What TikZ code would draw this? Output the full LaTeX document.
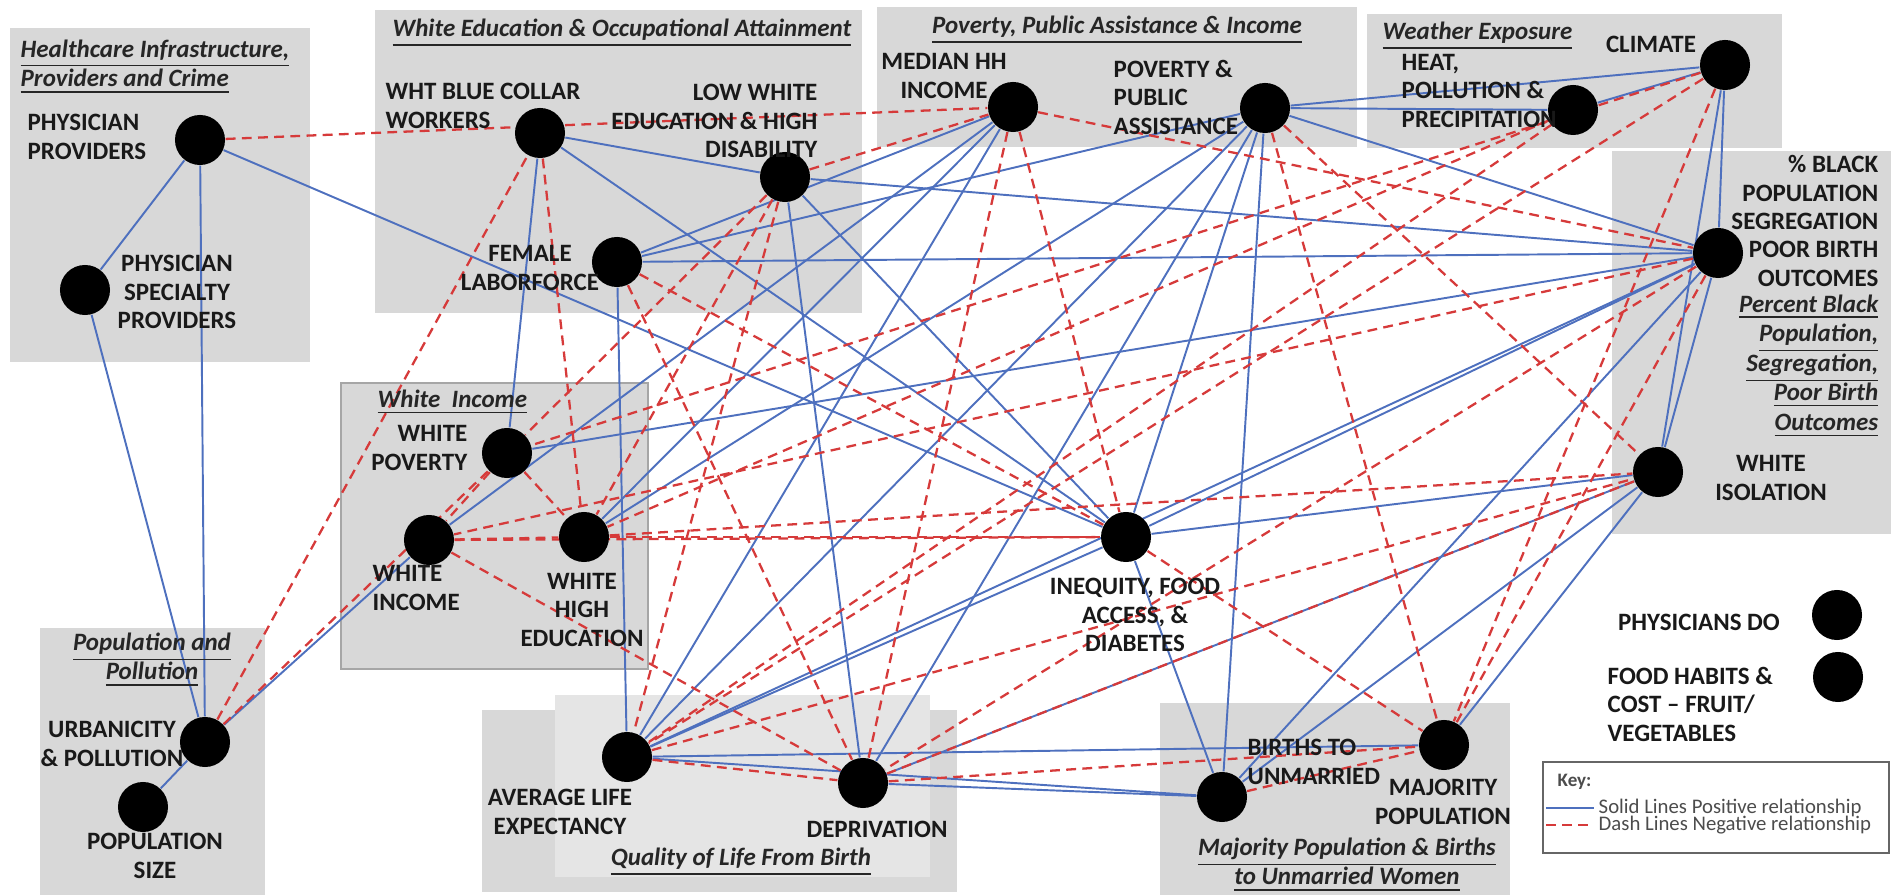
\documentclass[tikz,border=0pt]{standalone}
\usepackage{fontspec}
\setmainfont{Carlito}
\usetikzlibrary{positioning}
\definecolor{posblue}{RGB}{78,112,190}
\definecolor{negred}{RGB}{214,58,58}
\definecolor{boxgray}{RGB}{216,216,216}
\definecolor{boxlight}{RGB}{229,229,229}
\pgfdeclarelayer{boxes}
\pgfdeclarelayer{edges}
\pgfsetlayers{boxes,edges,main}
\newcommand{\ul}[1]{\underline{#1}}
\tikzset{
  dot/.style={circle, fill=black, minimum size=0.5cm, inner sep=0pt},
  poslink/.style={draw=posblue, line width=0.55pt},
  neglink/.style={draw=negred, line width=0.65pt, dash pattern=on 2.8pt off 1.8pt},
  lbl/.style={font=\fontsize{7.1}{8.1}\selectfont\bfseries, text=black!90, inner sep=0pt},
  ttl/.style={font=\fontsize{7.1}{8.4}\selectfont\bfseries\itshape, text=black!85, inner sep=0pt},
  keytxt/.style={font=\fontsize{5.9}{7}\selectfont, text=black!70, inner sep=0pt, anchor=west},
}

\begin{document}
\begin{tikzpicture}[x=0.01cm, y=-0.01cm]
            \useasboundingbox (0,0) rectangle (1891,895);
            \begin{pgfonlayer}{boxes}
            \fill[boxgray] (10,28) rectangle (310,362);
            \fill[boxgray] (375,10) rectangle (862,313);
            \fill[boxgray] (877,7) rectangle (1357,147);
            \fill[boxgray] (1367,14) rectangle (1782,148);
            \fill[boxgray] (1612,151) rectangle (1891,534);
            \filldraw[fill=boxgray, draw=black!35] (341,383) rectangle (648,669);
            \fill[boxgray] (40,628) rectangle (265,895);
            \fill[boxgray] (482,710) rectangle (957,892);
            \fill[boxlight] (555,695) rectangle (930,877);
            \fill[boxgray] (1160,703) rectangle (1510,895);
            \draw[black!60, fill=white] (1543,762) rectangle (1889,853);
            \end{pgfonlayer}

            \draw (200,140) node[dot] (pp) {};
            \draw (85,290) node[dot] (ps) {};
            \draw (540,133) node[dot] (wb) {};
            \draw (785,177) node[dot] (le) {};
            \draw (617,262) node[dot] (fl) {};
            \draw (1013,107) node[dot] (mh) {};
            \draw (1265,108) node[dot] (pv) {};
            \draw (1573,110) node[dot] (ht) {};
            \draw (1725,65) node[dot] (cl) {};
            \draw (1718,253) node[dot] (bk) {};
            \draw (1658,472) node[dot] (wi) {};
            \draw (205,742) node[dot] (ur) {};
            \draw (143,807) node[dot] (pz) {};
            \draw (507,453) node[dot] (wp) {};
            \draw (429,540) node[dot] (wc) {};
            \draw (584,537) node[dot] (wh) {};
            \draw (1126,537) node[dot] (iq) {};
            \draw (1222,797) node[dot] (bu) {};
            \draw (1444,745) node[dot] (mj) {};
            \draw (627,757) node[dot] (al) {};
            \draw (863,783) node[dot] (dp) {};
            \draw (1837,615) node[dot] (pd) {};
            \draw (1838,677) node[dot] (fh) {};

            \begin{pgfonlayer}{edges}
            \draw[poslink] (pp) -- (ps);
            \draw[poslink] (pp) -- (ur);
            \draw[poslink] (ps) -- (ur);
            \draw[poslink] (pp) -- (iq);
            \draw[poslink] (ur) -- (pz);
            \draw[poslink] (ur) -- (wc);
            \draw[poslink] (wc) -- (mh);
            \draw[poslink] (wb) -- (wp);
            \draw[poslink] (wb) -- (le);
            \draw[poslink] (wb) -- (iq);
            \draw[poslink] (le) -- (bk);
            \draw[poslink] (le) -- (iq);
            \draw[poslink] (le) -- (dp);
            \draw[poslink] (fl) -- (bk);
            \draw[poslink] (fl) -- (mh);
            \draw[poslink] (fl) -- (pv);
            \draw[poslink] (fl) -- (al);
            \draw[poslink] (wp) -- (bk);
            \draw[poslink] (wh) -- (mh);
            \draw[poslink] (al) -- (mh);
            \draw[poslink] (al) -- (pv);
            \draw[poslink] (al) -- (iq);
            \draw[poslink] (al) -- (bk);
            \draw[poslink] (al) -- (mj);
            \draw[poslink] (al) -- (bu);
            \draw[poslink] (dp) -- (bu);
            \draw[poslink] (dp) -- (pv);
            \draw[poslink] (dp) -- (wi);
            \draw[poslink] (pv) -- (ht);
            \draw[poslink] (pv) -- (cl);
            \draw[poslink] (ht) -- (cl);
            \draw[poslink] (cl) -- (bk);
            \draw[poslink] (cl) -- (wi);
            \draw[poslink] (bk) -- (wi);
            \draw[poslink] (pv) -- (iq);
            \draw[poslink] (pv) -- (bu);
            \draw[poslink] (pv) -- (bk);
            \draw[poslink] (pv) -- (wh);
            \draw[poslink] (iq) -- (bk);
            \draw[poslink] (iq) -- (bu);
            \draw[poslink] (iq) -- (wi);
            \draw[poslink] (bu) -- (bk);
            \draw[poslink] (bu) -- (wi);
            \draw[poslink] (mj) -- (wi);

            \draw[neglink] (pp) -- (mh);
            \draw[neglink] (ur) -- (wb);
            \draw[neglink] (ur) -- (wp);
            \draw[neglink] (wb) -- (wh);
            \draw[neglink] (le) -- (mh);
            \draw[neglink] (le) -- (wp);
            \draw[neglink] (le) -- (wh);
            \draw[neglink] (le) -- (al);
            \draw[neglink] (wp) -- (wc);
            \draw[neglink] (wp) -- (wh);
            \draw[neglink] (wc) -- (wh);
            \draw[neglink] (wc) -- (iq);
            \draw[neglink] (wh) -- (iq);
            \draw[neglink] (wc) -- (dp);
            \draw[neglink] (fl) -- (iq);
            \draw[neglink] (fl) -- (dp);
            \draw[neglink] (mh) -- (iq);
            \draw[neglink] (mh) -- (dp);
            \draw[neglink] (mh) -- (bk);
            \draw[neglink] (pv) -- (wi);
            \draw[neglink] (pv) -- (mj);
            \draw[neglink] (cl) -- (al);
            \draw[neglink] (ht) -- (al);
            \draw[neglink] (cl) -- (mj);
            \draw[neglink] (cl) -- (wp);
            \draw[neglink] (ht) -- (wh);
            \draw[neglink] (wi) -- (dp);
            \draw[neglink] (iq) -- (mj);
            \draw[neglink] (dp) -- (mj);
            \draw[neglink] (bu) -- (mj);
            \draw[neglink] (al) -- (dp);
            \draw[neglink] (bk) -- (wc);
            \draw[neglink] (bk) -- (mj);
            \draw[neglink] (bk) -- (dp);
            \draw[neglink] (wh) -- (wi);
            \draw[neglink] (al) -- (wi);
            \end{pgfonlayer}

            \node[ttl, anchor=west, align=left] (thc) at (20,67) {\ul{Healthcare Infrastructure,}\\\ul{Providers and Crime}};
            \node[lbl, anchor=west, align=left] (lpp) at (27,137) {PHYSICIAN\\PROVIDERS};
            \node[lbl, align=center] (lps) at (177,292) {PHYSICIAN\\SPECIALTY\\PROVIDERS};
            \node[ttl] (twe) at (622,33) {\ul{White Education \& Occupational Attainment}};
            \node[lbl, anchor=west, align=left] (lwb) at (385,106) {WHT BLUE COLLAR\\WORKERS};
            \node[lbl, anchor=east, align=right] (lle) at (818,121) {LOW WHITE\\EDUCATION \& HIGH\\DISABILITY};
            \node[lbl, align=center] (lfl) at (530,268) {FEMALE\\LABORFORCE};
            \node[ttl] (tpa) at (1117,30) {\ul{Poverty, Public Assistance \& Income}};
            \node[lbl, align=center] (lmh) at (944,76) {MEDIAN HH\\INCOME};
            \node[lbl, anchor=west, align=left] (lpv) at (1113,97) {POVERTY \&\\PUBLIC\\ASSISTANCE};
            \node[ttl, anchor=west] (twx) at (1382,36) {\ul{Weather Exposure}};
            \node[lbl, anchor=west, align=left] (lht) at (1401,91) {HEAT,\\POLLUTION \&\\PRECIPITATION};
            \node[lbl] (lcl) at (1651,44) {CLIMATE};
            \node[lbl, anchor=east, align=right] (lbk) at (1879,221) {\% BLACK\\POPULATION\\SEGREGATION\\POOR BIRTH\\OUTCOMES};
            \node[ttl, anchor=east, align=right] (tbk) at (1879,366) {\ul{Percent Black}\\\ul{Population,}\\\ul{Segregation,}\\\ul{Poor Birth}\\\ul{Outcomes}};
            \node[lbl, align=center] (lwi) at (1771,478) {WHITE\\ISOLATION};
            \node[ttl, anchor=west] (twn) at (377,402) {\ul{White~~Income}};
            \node[lbl, anchor=east, align=right] (lwp) at (468,448) {WHITE\\POVERTY};
            \node[lbl, anchor=west, align=left] (lwc) at (372,588) {WHITE\\INCOME};
            \node[lbl, align=center] (lwh) at (582,610) {WHITE\\HIGH\\EDUCATION};
            \node[ttl, align=center] (tpo) at (152,660) {\ul{Population and}\\\ul{Pollution}};
            \node[lbl, align=center] (lur) at (112,744) {URBANICITY\\\& POLLUTION};
            \node[lbl, align=center] (lpz) at (155,856) {POPULATION\\SIZE};
            \node[lbl, align=center] (lal) at (560,812) {AVERAGE LIFE\\EXPECTANCY};
            \node[lbl] (ldp) at (877,829) {DEPRIVATION};
            \node[ttl] (tql) at (741,862) {\ul{Quality of Life From Birth}};
            \node[lbl, align=center] (liq) at (1135,615) {INEQUITY, FOOD\\ACCESS, \&\\DIABETES};
            \node[lbl, anchor=west, align=left] (lbu) at (1247,762) {BIRTHS TO\\UNMARRIED};
            \node[lbl, align=center] (lmj) at (1443,802) {MAJORITY\\POPULATION};
            \node[ttl, align=center] (tmp) at (1347,865) {\ul{Majority Population \& Births}\\\ul{to Unmarried Women}};
            \node[lbl] (lpd) at (1699,622) {PHYSICIANS DO};
            \node[lbl, anchor=west, align=left] (lfh) at (1607,704) {FOOD HABITS \&\\COST – FRUIT/\\VEGETABLES};

            \node[keytxt, font=\fontsize{5.4}{6}\selectfont\bfseries] (key) at (1557,782) {Key:};
            \coordinate (ksa) at (1546,808);
            \coordinate (ksb) at (1594,808);
            \coordinate (kda) at (1546,825);
            \coordinate (kdb) at (1594,825);
            \draw[poslink] (ksa) -- (ksb);
            \draw[neglink] (kda) -- (kdb);
            \node[keytxt] (kpos) at (1598,808) {Solid Lines Positive relationship};
            \node[keytxt] (kneg) at (1598,825) {Dash Lines Negative relationship};
\end{tikzpicture}
\end{document}
